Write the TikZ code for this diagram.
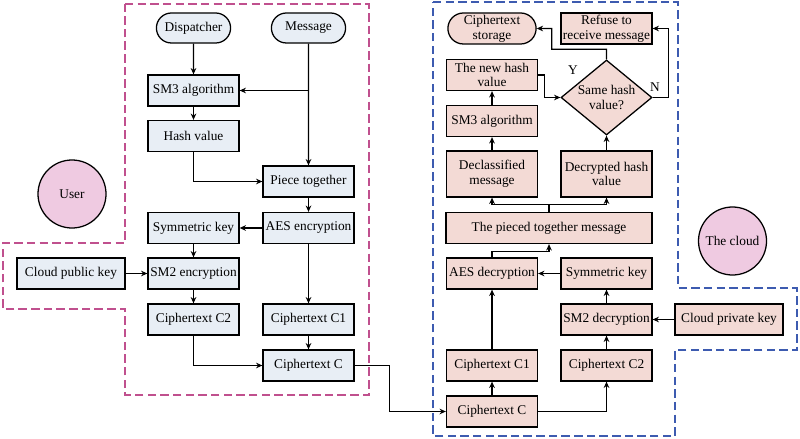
\documentclass[tikz,border=0pt]{standalone}
\usepackage{fontspec}
\setmainfont{Liberation Serif}
\usetikzlibrary{shapes.geometric,shapes.misc,arrows.meta}
\definecolor{userfill}{HTML}{E8EEF5}
\definecolor{cloudfill}{HTML}{F3DAD5}
\definecolor{partyfill}{HTML}{EFCAE1}
\definecolor{userline}{HTML}{C0508E}
\definecolor{cloudline}{HTML}{3D5BB0}
\tikzset{
  box/.style={draw, line width=0.9pt, minimum width=2.275cm, minimum height=0.775cm, inner sep=1pt, align=center, font=\fontsize{9.5}{10.5}\selectfont},
  ubox/.style={box, fill=userfill},
  cbox/.style={box, fill=cloudfill},
  uterm/.style={ubox, rounded rectangle, minimum width=1.925cm, minimum height=0.75cm},
  cterm/.style={cbox, rounded rectangle},
  party/.style={circle, draw, line width=0.9pt, fill=partyfill, minimum size=1.7cm, inner sep=0pt, font=\fontsize{9.5}{10.5}\selectfont},
  flow/.style={-{Stealth[length=4.5pt,width=4pt]}, line width=0.9pt},
  zone/.style={line width=1.1pt, dash pattern=on 6pt off 3pt}
}
\begin{document}
\begin{tikzpicture}[x=0.025cm,y=-0.025cm]
\useasboundingbox (0,0) rectangle (800,439);

\draw[zone, userline] (125,4) -- (369,4) -- (369,395) -- (125,395) -- (125,309) -- (3,309) -- (3,243) -- (125,243) -- cycle;
\draw[zone, cloudline] (433,2) -- (678,2) -- (678,288) -- (797,288) -- (797,350) -- (675,350) -- (675,436) -- (433,436) -- cycle;

\node[party] (user) at (72,194) {User};
\node[party] (cloud) at (732.5,241) {The cloud};

\node[uterm] (disp) at (193.5,28) {Dispatcher};
\node[uterm] (msg) at (308.5,28) {Message};

\node[ubox] (sm3) at (193.5,90.5) {SM3 algorithm};
\node[ubox] (hash) at (193.5,136) {Hash value};
\node[ubox] (piece) at (308.5,181.5) {Piece together};

\node[ubox] (skey) at (193.5,228) {Symmetric key};
\node[ubox] (aes) at (308.5,228) {AES encryption};

\node[ubox, minimum width=2.7cm] (pubkey) at (71,273.5) {Cloud public key};
\node[ubox] (sm2) at (193.5,273.5) {SM2 encryption};

\node[ubox] (c2) at (193.5,319.5) {Ciphertext C2};
\node[ubox] (c1) at (308.5,319.5) {Ciphertext C1};
\node[ubox] (cc) at (308.5,365.5) {Ciphertext C};

\node[cterm] (store) at (492,28.5) {Ciphertext\\storage};
\node[cbox] (refuse) at (606.5,28.5) {Refuse to\\receive message};

\node[cbox] (newhash) at (492,75) {The new hash\\value};
\node[cbox, diamond, aspect=1.2, minimum width=2.275cm, minimum height=1.875cm, inner sep=0pt] (same) at (606.5,97.5) {Same hash\\value?};
\node[cbox] (rsm3) at (492,121) {SM3 algorithm};

\node[cbox, minimum height=1.15cm] (declass) at (492,174) {Declassified\\message};
\node[cbox, minimum height=1.15cm] (dechash) at (606.5,174) {Decrypted hash\\value};

\node[cbox, minimum width=5.15cm] (pieced) at (549,228) {The pieced together message};

\node[cbox] (aesd) at (492,273.5) {AES decryption};
\node[cbox] (rkey) at (606.5,273.5) {Symmetric key};

\node[cbox] (sm2d) at (606.5,319.5) {SM2 decryption};
\node[cbox, minimum width=2.7cm] (privkey) at (729,319.5) {Cloud private key};

\node[cbox] (rc1) at (492,365.5) {Ciphertext C1};
\node[cbox] (rc2) at (606.5,365.5) {Ciphertext C2};
\node[cbox] (rcc) at (492,411.5) {Ciphertext C};

\node[font=\fontsize{9.5}{10.5}\selectfont] (yes) at (573,70) {Y};
\node[font=\fontsize{9.5}{10.5}\selectfont] (no) at (655,87) {N};

\draw[flow] (disp) -- (sm3);
\draw[flow] (msg) -- (piece);
\draw[flow] (msg.south |- sm3) -- (sm3);
\draw[flow] (sm3) -- (hash);
\draw[flow] (hash) |- (piece);
\draw[flow] (piece) -- (aes);
\draw[flow] (aes) -- (skey);
\draw[flow] (skey) -- (sm2);
\draw[flow] (pubkey) -- (sm2);
\draw[flow] (sm2) -- (c2);
\draw[flow] (aes) -- (c1);
\draw[flow] (c1) -- (cc);
\draw[flow] (c2) |- (cc);
\draw[flow] (cc.east) -- ++(35,0) |- (rcc);

\draw[flow] (rcc) -- (rc1);
\draw[flow] (rcc) -| (rc2);
\draw[flow] (rc1) -- (aesd);
\draw[flow] (rc2) -- (sm2d);
\draw[flow] (privkey) -- (sm2d);
\draw[flow] (sm2d) -- (rkey);
\draw[flow] (rkey) -- (aesd);
\draw[flow] (aesd.north) -- ++(0,-6) -| (pieced);
\draw[flow] (pieced.north) -- ++(0,-7) -| (declass);
\draw[flow] (pieced.north) -- ++(0,-7) -| (dechash);
\draw[flow] (declass) -- (rsm3);
\draw[flow] (rsm3) -- (newhash);
\draw[flow] (newhash.east) -- ++(6,0) |- (same);
\draw[flow] (dechash) -- (same);
\draw[flow] (same.north) -- ++(0,-10) -| ([xshift=0.375cm]store.east) -- (store);
\draw[flow] (same.east) -- ++(16,0) |- (refuse);
\end{tikzpicture}
\end{document}
